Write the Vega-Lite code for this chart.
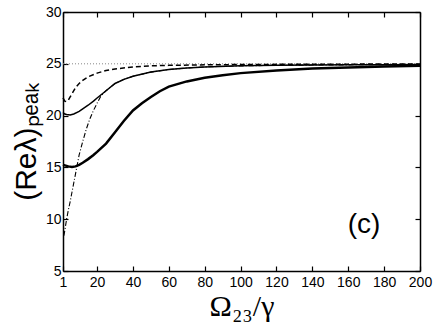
{
  "$schema": "https://vega.github.io/schema/vega-lite/v6.json",
  "width": 357,
  "height": 259,
  "autosize": {"type": "none"},
  "padding": {"left": 63, "top": 12, "right": 16, "bottom": 56},
  "background": "white",
  "config": {
    "view": {"stroke": null},
    "font": "Liberation Sans",
    "axis": {
      "grid": false,
      "domainColor": "black",
      "domainWidth": 1.5,
      "tickColor": "black",
      "tickWidth": 1.2,
      "tickSize": -5,
      "labelColor": "black",
      "labelFont": "Liberation Sans",
      "labelFontSize": 14,
      "titleColor": "black",
      "titleFontWeight": "normal"
    }
  },
  "data": {"values": [
    {"s": "A", "x": 1, "y": 15.25}, {"s": "A", "x": 2, "y": 15.2}, {"s": "A", "x": 4, "y": 15.1}, {"s": "A", "x": 6, "y": 15.05}, {"s": "A", "x": 8, "y": 15.1}, {"s": "A", "x": 10, "y": 15.25}, {"s": "A", "x": 12, "y": 15.45}, {"s": "A", "x": 15, "y": 15.8}, {"s": "A", "x": 18, "y": 16.2}, {"s": "A", "x": 20, "y": 16.5}, {"s": "A", "x": 25, "y": 17.3}, {"s": "A", "x": 30, "y": 18.4}, {"s": "A", "x": 35, "y": 19.5}, {"s": "A", "x": 40, "y": 20.5}, {"s": "A", "x": 45, "y": 21.2}, {"s": "A", "x": 50, "y": 21.8}, {"s": "A", "x": 55, "y": 22.35}, {"s": "A", "x": 60, "y": 22.8}, {"s": "A", "x": 70, "y": 23.3}, {"s": "A", "x": 80, "y": 23.65}, {"s": "A", "x": 90, "y": 23.9}, {"s": "A", "x": 100, "y": 24.1}, {"s": "A", "x": 120, "y": 24.35}, {"s": "A", "x": 140, "y": 24.55}, {"s": "A", "x": 160, "y": 24.65}, {"s": "A", "x": 180, "y": 24.75}, {"s": "A", "x": 200, "y": 24.8},
    {"s": "B", "x": 1, "y": 20.3}, {"s": "B", "x": 2, "y": 20.15}, {"s": "B", "x": 3, "y": 20.1}, {"s": "B", "x": 5, "y": 20.05}, {"s": "B", "x": 7, "y": 20.15}, {"s": "B", "x": 10, "y": 20.4}, {"s": "B", "x": 12, "y": 20.65}, {"s": "B", "x": 15, "y": 21.0}, {"s": "B", "x": 18, "y": 21.4}, {"s": "B", "x": 20, "y": 21.7}, {"s": "B", "x": 25, "y": 22.4}, {"s": "B", "x": 30, "y": 23.1}, {"s": "B", "x": 35, "y": 23.5}, {"s": "B", "x": 40, "y": 23.8}, {"s": "B", "x": 50, "y": 24.2}, {"s": "B", "x": 60, "y": 24.45}, {"s": "B", "x": 70, "y": 24.6}, {"s": "B", "x": 80, "y": 24.7}, {"s": "B", "x": 100, "y": 24.8}, {"s": "B", "x": 120, "y": 24.85}, {"s": "B", "x": 140, "y": 24.88}, {"s": "B", "x": 160, "y": 24.9}, {"s": "B", "x": 180, "y": 24.92}, {"s": "B", "x": 200, "y": 24.93},
    {"s": "C", "x": 1, "y": 21.7}, {"s": "C", "x": 2, "y": 21.4}, {"s": "C", "x": 3, "y": 21.35}, {"s": "C", "x": 4, "y": 21.5}, {"s": "C", "x": 5, "y": 21.8}, {"s": "C", "x": 6, "y": 22.1}, {"s": "C", "x": 8, "y": 22.7}, {"s": "C", "x": 10, "y": 23.1}, {"s": "C", "x": 12, "y": 23.4}, {"s": "C", "x": 15, "y": 23.75}, {"s": "C", "x": 20, "y": 24.1}, {"s": "C", "x": 25, "y": 24.35}, {"s": "C", "x": 30, "y": 24.5}, {"s": "C", "x": 40, "y": 24.7}, {"s": "C", "x": 50, "y": 24.8}, {"s": "C", "x": 60, "y": 24.85}, {"s": "C", "x": 80, "y": 24.9}, {"s": "C", "x": 100, "y": 24.93}, {"s": "C", "x": 140, "y": 24.96}, {"s": "C", "x": 200, "y": 24.98},
    {"s": "D", "x": 1.5, "y": 8.4}, {"s": "D", "x": 2, "y": 8.9}, {"s": "D", "x": 3, "y": 10.0}, {"s": "D", "x": 4, "y": 10.9}, {"s": "D", "x": 5, "y": 11.7}, {"s": "D", "x": 6, "y": 12.6}, {"s": "D", "x": 7, "y": 13.5}, {"s": "D", "x": 8, "y": 14.4}, {"s": "D", "x": 10, "y": 16.2}, {"s": "D", "x": 12, "y": 17.5}, {"s": "D", "x": 14, "y": 18.7}, {"s": "D", "x": 16, "y": 19.7}, {"s": "D", "x": 18, "y": 20.5}, {"s": "D", "x": 20, "y": 21.2}, {"s": "D", "x": 22, "y": 21.85}, {"s": "D", "x": 25, "y": 22.4}, {"s": "D", "x": 30, "y": 23.1}, {"s": "D", "x": 35, "y": 23.5}, {"s": "D", "x": 40, "y": 23.8}, {"s": "D", "x": 50, "y": 24.2}, {"s": "D", "x": 60, "y": 24.45}, {"s": "D", "x": 70, "y": 24.6}, {"s": "D", "x": 80, "y": 24.7}, {"s": "D", "x": 100, "y": 24.8}, {"s": "D", "x": 120, "y": 24.85}, {"s": "D", "x": 140, "y": 24.88}, {"s": "D", "x": 160, "y": 24.9}, {"s": "D", "x": 180, "y": 24.92}, {"s": "D", "x": 200, "y": 24.93},
    {"s": "R", "x": 1, "y": 25}, {"s": "R", "x": 200, "y": 25},
    {"s": "L", "x": 168.8, "y": 9.4, "label": "(c)"}
  ]},
  "resolve": {"axis": {"x": "independent", "y": "independent"}},
  "layer": [
    {
      "transform": [{"filter": "datum.s === 'R'"}],
      "mark": {"type": "line", "color": "#888888", "strokeWidth": 1, "strokeDash": [1, 2]},
      "encoding": {
        "x": {"field": "x", "type": "quantitative", "scale": {"domain": [1, 200], "nice": false, "zero": false},
              "axis": {"orient": "top", "values": [1, 20, 40, 60, 80, 100, 120, 140, 160, 180, 200], "labels": false, "title": null}},
        "y": {"field": "y", "type": "quantitative", "scale": {"domain": [5, 30], "nice": false, "zero": false},
              "axis": {"orient": "right", "values": [5, 10, 15, 20, 25, 30], "labels": false, "title": null}}
      }
    },
    {
      "transform": [{"filter": "datum.s === 'D'"}],
      "mark": {"type": "line", "color": "black", "strokeWidth": 1.1, "strokeDash": [5, 2, 1, 2]},
      "encoding": {
        "x": {"field": "x", "type": "quantitative", "axis": null},
        "y": {"field": "y", "type": "quantitative", "axis": null}
      }
    },
    {
      "transform": [{"filter": "datum.s === 'A'"}],
      "mark": {"type": "line", "color": "black", "strokeWidth": 2.5},
      "encoding": {
        "x": {"field": "x", "type": "quantitative",
              "axis": {"orient": "bottom", "values": [1, 20, 40, 60, 80, 100, 120, 140, 160, 180, 200], "labelPadding": 9, "labelFlush": false,
                       "title": "Ω₂₃/γ", "titleFont": "Liberation Serif", "titleFontSize": 30, "titlePadding": 2}},
        "y": {"field": "y", "type": "quantitative",
              "axis": {"orient": "left", "values": [5, 10, 15, 20, 25, 30], "labelPadding": 7, "labelFlush": false,
                       "title": "(Reλ)ₚₑₐₖ", "titleFont": "Liberation Sans", "titleFontSize": 30, "titlePadding": 4}}
      }
    },
    {
      "transform": [{"filter": "datum.s === 'B'"}],
      "mark": {"type": "line", "color": "black", "strokeWidth": 1.5},
      "encoding": {
        "x": {"field": "x", "type": "quantitative", "axis": null},
        "y": {"field": "y", "type": "quantitative", "axis": null}
      }
    },
    {
      "transform": [{"filter": "datum.s === 'C'"}],
      "mark": {"type": "line", "color": "black", "strokeWidth": 1.5, "strokeDash": [5, 3]},
      "encoding": {
        "x": {"field": "x", "type": "quantitative", "axis": null},
        "y": {"field": "y", "type": "quantitative", "axis": null}
      }
    },
    {
      "transform": [{"filter": "datum.s === 'L'"}],
      "mark": {"type": "text", "font": "Liberation Sans", "fontSize": 28, "color": "black"},
      "encoding": {
        "x": {"field": "x", "type": "quantitative", "axis": null},
        "y": {"field": "y", "type": "quantitative", "axis": null},
        "text": {"field": "label"}
      }
    }
  ]
}
